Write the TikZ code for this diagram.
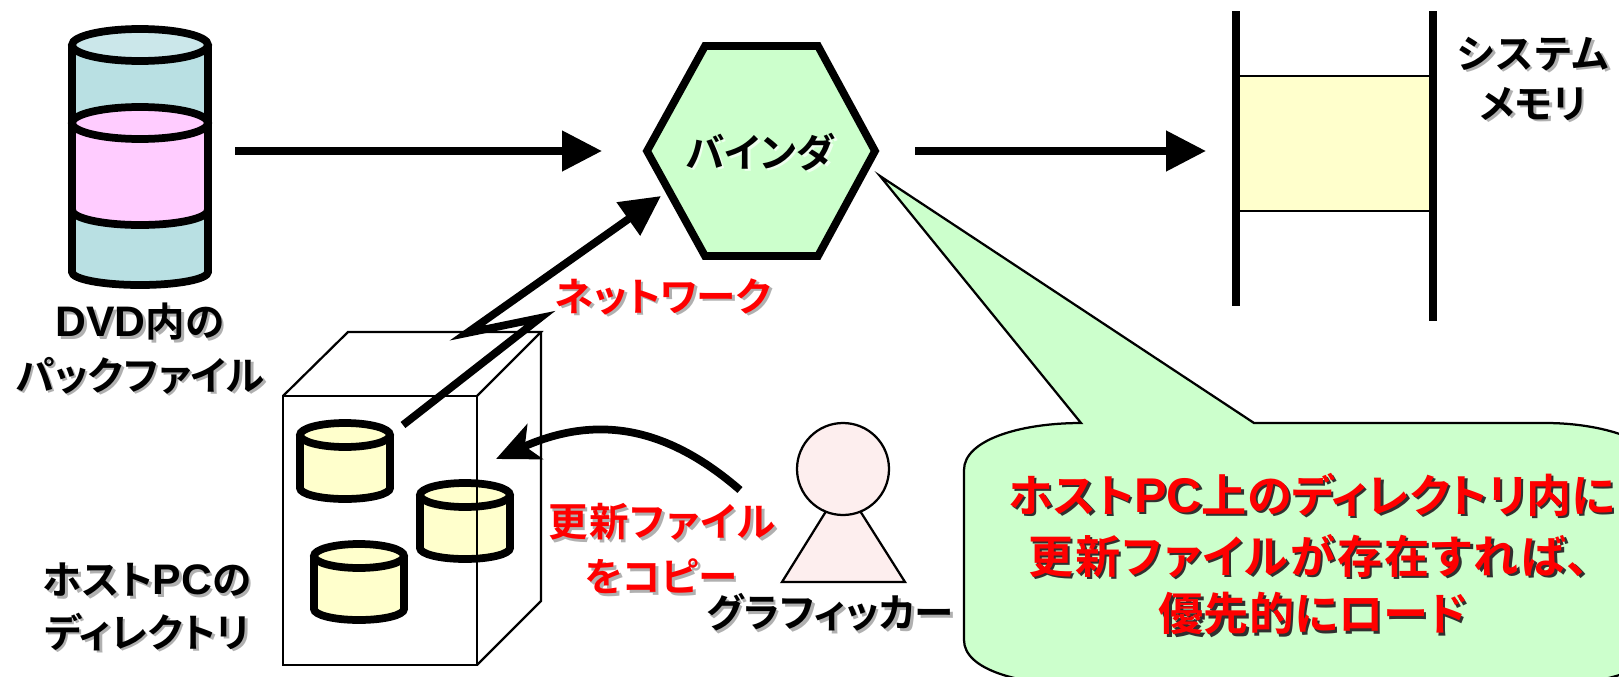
\documentclass[tikz,border=0pt]{standalone}
\usepackage{fontspec}
\usetikzlibrary{arrows.meta}
\setmainfont{Noto Sans CJK JP}[BoldFont={Noto Sans CJK JP Bold},RawFeature={+palt}]
\newfontfamily\latinfont{Liberation Sans}[BoldFont={Liberation Sans Bold},Scale=1.08]
\newcommand{\shtxt}[4][shgray]{\leavevmode\rlap{\kern#4\raisebox{-#4}{\color{#1}#3}}{\color{#2}#3}}
\definecolor{shgray}{HTML}{B0B0B0}
\definecolor{shdark}{HTML}{303030}
\definecolor{shpale}{HTML}{EEFFEE}
\definecolor{diskblue}{HTML}{B9E0E3}
\definecolor{diskbluetop}{HTML}{CBE7EA}
\definecolor{diskpink}{HTML}{FFCCFF}
\definecolor{lightyellow}{HTML}{FFFFCC}
\definecolor{lightgreen}{HTML}{CCFFCC}
\definecolor{lightrose}{HTML}{FDEEEE}
\begin{document}
\begin{tikzpicture}[x=0.02cm, y=-0.02cm, line join=miter,
	heavy/.style = {draw=black, line width=0.155cm},
	thin line/.style = {draw=black, line width=0.045cm},
	flow/.style = {heavy, -{Triangle[length=0.8cm,width=0.78cm]}},
	label text/.style = {font=\fontsize{22.5pt}{26pt}\selectfont\bfseries, inner sep=0pt, align=center},
	note text/.style = {font=\fontsize{25.7pt}{30pt}\selectfont\bfseries, inner sep=0pt, align=center}]
	\clip (0,0) rectangle (1619,676);

	% disc with the pack file
	\fill[diskblue] (72,45) -- (72,272) arc[start angle=180, end angle=0, x radius=68, y radius=13] -- (208,45) -- cycle;
	\fill[diskpink] (72,123) -- (72,210) arc[start angle=180, end angle=0, x radius=68, y radius=15] -- (208,123) -- cycle;
	\draw[heavy, fill=diskbluetop] (140,45) ellipse[x radius=68, y radius=16];
	\draw[heavy, fill=diskpink] (140,123) ellipse[x radius=68, y radius=16];
	\draw[heavy] (72,210) arc[start angle=180, end angle=0, x radius=68, y radius=15];
	\draw[heavy] (72,45) -- (72,272) arc[start angle=180, end angle=0, x radius=68, y radius=13] -- (208,45);

	% small discs
	\foreach \cx/\cy in {345/435, 465/495, 359/556} {
		\fill[lightyellow] (\cx-45,\cy) -- (\cx-45,\cy+53) arc[start angle=180, end angle=0, x radius=45, y radius=11] -- (\cx+45,\cy) -- cycle;
		\draw[heavy, fill=lightyellow] (\cx,\cy) ellipse[x radius=45, y radius=12];
		\draw[heavy] (\cx-45,\cy) -- (\cx-45,\cy+53) arc[start angle=180, end angle=0, x radius=45, y radius=11] -- (\cx+45,\cy);
	}

	% box of the host directory
	\draw[thin line] (283,396) rectangle (477,665);
	\draw[thin line] (283,396) -- (348,332) -- (541,332) -- (477,396);
	\draw[thin line] (541,332) -- (541,601) -- (477,665);

	% binder
	\draw[heavy, fill=lightgreen] (647,151) -- (705,46) -- (818,46) -- (875,151) -- (818,256) -- (705,256) -- cycle;

	% system memory
	\fill[lightyellow] (1236,76) rectangle (1433,211);
	\draw[thin line] (1236,76) -- (1433,76);
	\draw[thin line] (1236,211) -- (1433,211);
	\draw[heavy] (1236,11) -- (1236,306);
	\draw[heavy] (1433,11) -- (1433,321);

	% person
	\draw[thin line, fill=lightrose] (843,484) -- (905,582) -- (782,582) -- cycle;
	\draw[thin line, fill=lightrose] (843,469) circle[radius=46];

	% balloon
	\draw[thin line, fill=lightgreen] (1081,423) -- (880,176) -- (1254,423) -- (1546,423)
		.. controls (1600,423) and (1660,440) .. (1660,470) -- (1660,640)
		.. controls (1660,670) and (1600,685) .. (1546,685) -- (1081,685)
		.. controls (1020,685) and (964,670) .. (964,640) -- (964,470)
		.. controls (964,440) and (1020,423) .. (1081,423) -- cycle;

	% labels
	\node[label text] (dvd1) at (140,323) {\shtxt{black}{{\latinfont DVD}内の}{1.5pt}};
	\node[label text] (dvd2) at (140,377) {\shtxt{black}{パックファイル}{1.5pt}};
	\node[label text] (host1) at (147,581) {\shtxt{black}{ホスト{\latinfont PC}の}{1.5pt}};
	\node[label text] (host2) at (147,633) {\shtxt{black}{ディレクトリ}{1.5pt}};
	\node[label text] (binder) at (760,153) {\shtxt[shpale]{black}{バインダ}{1.5pt}};
	\node[label text] (mem1) at (1533,55) {\addfontfeature{LetterSpace=5}\shtxt{black}{システム}{1.5pt}};
	\node[label text] (mem2) at (1533,105) {\shtxt{black}{メモリ}{1.5pt}};
	\node[label text] (net) at (663,298) {\shtxt{red}{ネットワーク}{1.5pt}};
	\node[label text] (copy1) at (662,523) {\addfontfeature{LetterSpace=4}\shtxt{red}{更新ファイル}{1.5pt}};
	\node[label text] (copy2) at (661,578) {\shtxt{red}{をコピー}{1.5pt}};
	\node[label text] (grapher) at (830,614) {\shtxt{black}{グラフィッカー}{1.5pt}};
	\node[note text] (note1) at (1312,496) {\shtxt[shdark]{red}{ホスト{\latinfont PC}上のディレクトリ内に}{1.3pt}};
	\node[note text] (note2) at (1309,557) {\addfontfeature{LetterSpace=4}\shtxt[shdark]{red}{更新ファイルが存在すれば、}{1.3pt}};
	\node[note text] (note3) at (1313,615) {\shtxt[shdark]{red}{優先的にロード}{1.3pt}};

	% connector ends
	\coordinate (dvdout) at (235,151);
	\coordinate (binderin) at (602,151);
	\coordinate (binderout) at (915,151);
	\coordinate (memin) at (1206,151);
	\coordinate (diskout) at (403,425);
	\coordinate (bend1) at (540,318);
	\coordinate (bend2) at (467,333);
	\coordinate (binderlow) at (661,196);
	\coordinate (grapherout) at (740,490);
	\coordinate (boxin) at (496,459);

	\draw[flow] (dvdout) -- (binderin);
	\draw[flow] (binderout) -- (memin);
	\draw[flow] (diskout) -- (bend1) -- (bend2) -- (binderlow);
	\draw[heavy, -{Stealth[length=0.85cm,width=0.76cm,inset=0.22cm]}] (grapherout) .. controls (665,425) and (595,415) .. (boxin);
\end{tikzpicture}
\end{document}
